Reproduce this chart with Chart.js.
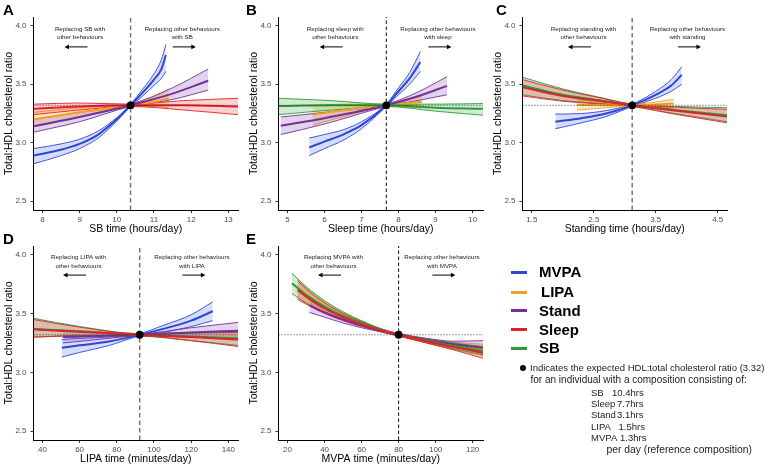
<!DOCTYPE html>
<html><head><meta charset="utf-8">
<script src="https://cdn.jsdelivr.net/npm/chart.js@4.4.1/dist/chart.umd.min.js"></script>
<style>
body{margin:0;width:765px;height:466px;background:#fff;position:relative;overflow:hidden;font-family:"Liberation Sans",Arial,sans-serif}
canvas{position:absolute}
.let{position:absolute;font-weight:bold;font-size:15px;line-height:15px;color:#000}
.lg{position:absolute;height:3px;width:16px}
.lgt{position:absolute;font-weight:bold;font-size:15px;line-height:16px;color:#000}
.nt{position:absolute;font-size:10px;line-height:12px;color:#222;white-space:nowrap}
</style></head><body>
<canvas id="cA" width="245" height="236" style="left:0px;top:0px"></canvas>
<canvas id="cB" width="245" height="236" style="left:245px;top:0px"></canvas>
<canvas id="cC" width="245" height="236" style="left:489px;top:0px"></canvas>
<canvas id="cD" width="245" height="236" style="left:0px;top:230px"></canvas>
<canvas id="cE" width="245" height="236" style="left:245px;top:230px"></canvas>
<div id="extra"></div>
<script>
// ---------- data ----------
const REF_RATIO = 3.32;
const Y_MIN = 2.425, Y_MAX = 4.075;
const Y_TICKS = [2.5, 3.0, 3.5, 4.0];
const SERIES_NAMES = ['MVPA','LIPA','Stand','Sleep','SB'];

// Panel A : SB time (hours/day)
const A_X_TICKS = [8, 9, 10, 11, 12, 13];
const A_X_RANGE = [7.76, 13.26];
const A_REF = 10.37;
// rows: [x, mean, lower, upper]
const A_MVPA = [[7.76,2.89,2.82,2.95],[8.5,2.94,2.89,2.99],[9.0,2.99,2.95,3.03],[9.5,3.07,3.04,3.10],[10.0,3.20,3.185,3.215],[10.37,3.32,3.31,3.33],[10.7,3.43,3.40,3.46],[11.0,3.54,3.49,3.59],[11.2,3.63,3.55,3.71],[11.32,3.75,3.61,3.84]];
const A_LIPA = [[7.76,3.20,3.14,3.26],[9.0,3.26,3.22,3.30],[10.37,3.32,3.31,3.33],[11.0,3.35,3.31,3.39],[11.4,3.38,3.30,3.46]];
const A_STAND = [[7.76,3.14,3.09,3.20],[9.0,3.22,3.18,3.26],[10.37,3.32,3.31,3.33],[11.5,3.42,3.37,3.47],[12.46,3.53,3.45,3.63]];
const A_SLEEP = [[7.76,3.29,3.24,3.33],[9.0,3.31,3.28,3.34],[10.37,3.32,3.31,3.33],[11.8,3.32,3.28,3.36],[13.26,3.31,3.24,3.38]];

// Panel B : Sleep time (hours/day)
const B_X_TICKS = [5, 6, 7, 8, 9, 10];
const B_X_RANGE = [4.76, 10.28];
const B_REF = 7.67;
const B_MVPA = [[5.59,2.96,2.89,3.04],[6.0,3.01,2.95,3.07],[6.5,3.07,3.02,3.11],[7.0,3.15,3.12,3.18],[7.67,3.32,3.31,3.33],[8.0,3.44,3.41,3.47],[8.3,3.55,3.50,3.60],[8.59,3.69,3.61,3.78]];
const B_LIPA = [[5.68,3.24,3.15,3.32],[6.7,3.285,3.24,3.33],[7.67,3.32,3.31,3.33],[8.63,3.35,3.30,3.40]];
const B_STAND = [[4.82,3.145,3.07,3.22],[6.0,3.21,3.16,3.26],[7.67,3.32,3.31,3.33],[8.5,3.395,3.36,3.43],[9.31,3.486,3.41,3.565]];
const B_SB = [[4.76,3.315,3.24,3.38],[6.2,3.32,3.28,3.36],[7.67,3.32,3.31,3.33],[9.0,3.30,3.27,3.33],[10.28,3.29,3.235,3.335]];

// Panel C : Standing time (hours/day)
const C_X_TICKS = [1.5, 2.5, 3.5, 4.5];
const C_X_RANGE = [1.35, 4.65];
const C_REF = 3.12;
const C_MVPA = [[1.88,3.18,3.12,3.245],[2.3,3.21,3.17,3.25],[2.7,3.25,3.225,3.275],[3.12,3.32,3.31,3.33],[3.5,3.41,3.38,3.44],[3.75,3.49,3.44,3.54],[3.92,3.58,3.50,3.65]];
const C_LIPA = [[2.23,3.325,3.28,3.37],[3.12,3.32,3.31,3.33],[3.79,3.335,3.30,3.37]];
const C_SLEEP = [[1.35,3.475,3.40,3.54],[2.0,3.40,3.355,3.45],[2.5,3.365,3.335,3.395],[3.12,3.32,3.31,3.33],[3.8,3.275,3.245,3.305],[4.65,3.225,3.17,3.285]];
const C_SB = [[1.35,3.49,3.41,3.56],[2.0,3.41,3.36,3.46],[2.5,3.37,3.34,3.40],[3.12,3.32,3.31,3.33],[3.8,3.28,3.25,3.31],[4.65,3.235,3.18,3.30]];

// Panel D : LIPA time (minutes/day)
const D_X_TICKS = [40, 60, 80, 100, 120, 140];
const D_X_RANGE = [35.2, 145.2];
const D_REF = 92.3;
const D_MVPA = [[50.4,3.21,3.13,3.28],[60,3.23,3.17,3.29],[75,3.26,3.225,3.30],[92.3,3.32,3.31,3.33],[105,3.37,3.34,3.40],[120,3.44,3.39,3.49],[131.6,3.52,3.44,3.60]];
const D_STAND = [[51,3.30,3.25,3.355],[70,3.31,3.28,3.34],[92.3,3.32,3.31,3.33],[120,3.34,3.30,3.38],[145.2,3.355,3.285,3.425]];
const D_SLEEP = [[35.2,3.366,3.30,3.45],[60,3.345,3.31,3.385],[92.3,3.32,3.31,3.33],[120,3.30,3.27,3.335],[145.2,3.28,3.22,3.34]];
const D_SB = [[35.2,3.37,3.30,3.46],[60,3.35,3.315,3.39],[92.3,3.32,3.31,3.33],[120,3.305,3.27,3.34],[145.2,3.29,3.23,3.35]];

// Panel E : MVPA time (minutes/day)
const E_X_TICKS = [20, 40, 60, 80, 100, 120];
const E_X_RANGE = [15.1, 125.6];
const E_REF = 80;
const E_LIPA = [[25.4,3.71,3.64,3.80],[30,3.655,3.59,3.72],[40,3.555,3.51,3.60],[50,3.475,3.445,3.505],[60,3.415,3.395,3.435],[70,3.362,3.352,3.372],[80,3.32,3.31,3.33],[95,3.268,3.25,3.285],[110,3.225,3.195,3.255],[125.6,3.19,3.14,3.24]];
const E_STAND = [[31.9,3.57,3.51,3.62],[40,3.51,3.47,3.55],[50,3.45,3.42,3.48],[60,3.40,3.38,3.42],[70,3.355,3.345,3.365],[80,3.32,3.31,3.33],[95,3.275,3.26,3.29],[110,3.24,3.215,3.265],[125.6,3.21,3.16,3.27]];
const E_SLEEP = [[25.4,3.70,3.62,3.78],[30,3.645,3.58,3.71],[40,3.545,3.50,3.59],[50,3.47,3.44,3.50],[60,3.41,3.39,3.43],[70,3.36,3.35,3.37],[80,3.32,3.31,3.33],[95,3.265,3.25,3.28],[110,3.215,3.19,3.24],[125.6,3.17,3.12,3.21]];
const E_SB = [[22.4,3.757,3.67,3.843],[30,3.66,3.59,3.73],[40,3.56,3.51,3.61],[50,3.48,3.45,3.515],[60,3.42,3.40,3.44],[70,3.365,3.355,3.375],[80,3.32,3.31,3.33],[95,3.27,3.255,3.285],[110,3.225,3.20,3.25],[125.6,3.185,3.15,3.22]];

// reference composition text
const REF_LABELS = ['SB','Sleep','Stand','LIPA','MVPA'];
const REF_VALUES = ['10.4hrs','7.7hrs','3.1hrs','1.5hrs','1.3hrs'];

// ---------- styles ----------
const LINE_COLORS = {MVPA:'#2f45d6', LIPA:'#f3a020', Stand:'#74309a', Sleep:'#e2212a', SB:'#2b9b34'};
const FILL_COLORS = {MVPA:'rgba(70,100,235,0.22)', LIPA:'rgba(245,165,35,0.25)', Stand:'rgba(128,60,170,0.22)', Sleep:'rgba(235,40,45,0.22)', SB:'rgba(45,160,55,0.22)'};
const DRAW_RANK = {MVPA:0, LIPA:1, Stand:2, SB:3, Sleep:4};
const FONT = '"Liberation Sans", Arial, sans-serif';

const annotPlugin = {
  id: 'annot',
  afterDatasetsDraw(chart, args, o) {
    if (!o || !o.left) return;
    const {ctx, chartArea: ca} = chart;
    ctx.save();
    ctx.fillStyle = '#1a1a1a';
    ctx.strokeStyle = '#000';
    ctx.font = '6.2px ' + FONT;
    ctx.textAlign = 'center';
    ctx.textBaseline = 'middle';
    [[o.left, ca.left + o.tl, -1], [o.right, ca.left + o.tr, 1]].forEach(([lines, cx, dir]) => {
      lines.forEach((t, k) => ctx.fillText(t, cx, ca.top + o.dy + k * 8.7));
      const ax = cx + (dir < 0 ? -4 : 2);
      const y = ca.top + o.dy + 17.9;
      const half = 11.5;
      const tip = ax + dir * half;
      ctx.lineWidth = 1;
      ctx.beginPath();
      ctx.moveTo(ax - dir * half, y);
      ctx.lineTo(tip - dir * 3, y);
      ctx.stroke();
      ctx.beginPath();
      ctx.moveTo(tip, y);
      ctx.lineTo(tip - dir * 4.5, y - 2.4);
      ctx.lineTo(tip - dir * 4.5, y + 2.4);
      ctx.closePath();
      ctx.fillStyle = '#000';
      ctx.fill();
      ctx.fillStyle = '#1a1a1a';
    });
    ctx.restore();
  }
};

function toXY(rows, col) { return rows.map(r => ({x: r[0], y: r[col]})); }

function makePanel(p) {
  const datasets = [];
  datasets.push({data: [{x: p.ref, y: REF_RATIO}], showLine: false, pointRadius: 3.9, pointBackgroundColor: '#000', pointBorderWidth: 0, order: 1});
  datasets.push({data: [{x: p.ref, y: Y_MIN}, {x: p.ref, y: Y_MAX}], borderColor: p.dark ? '#111' : '#6e6e6e', borderWidth: p.dark ? 1 : 1.4, borderDash: p.dark ? [3.5, 2.5] : [4.5, 3], pointRadius: 0, order: 3});
  datasets.push({data: [{x: p.xr[0], y: REF_RATIO}, {x: p.xr[1], y: REF_RATIO}], borderColor: '#222', borderWidth: 0.9, borderDash: [1, 2], pointRadius: 0, order: 2});
  p.series.forEach(([name, rows]) => {
    const i = DRAW_RANK[name];
    const lc = LINE_COLORS[name], fc = FILL_COLORS[name];
    const common = {pointRadius: 0, cubicInterpolationMode: 'monotone', borderColor: lc};
    const lowIdx = datasets.length;
    datasets.push(Object.assign({data: toXY(rows, 2), borderWidth: 0.9, fill: false, order: 1001 - i * 10}, common));
    datasets.push(Object.assign({data: toXY(rows, 3), borderWidth: 0.9, fill: {target: lowIdx, above: fc, below: fc}, order: 1000 - i * 10}, common));
    datasets.push(Object.assign({data: toXY(rows, 1), borderWidth: 2, fill: false, order: 500 - i * 10}, common));
  });
  new Chart(document.getElementById(p.id), {
    type: 'line',
    data: {datasets},
    plugins: [annotPlugin],
    options: {
      responsive: false, animation: false, devicePixelRatio: 1,
      layout: {padding: {top: p.padTop, right: 7, left: 0, bottom: 0}},
      plugins: {legend: {display: false}, tooltip: {enabled: false},
        annot: {left: p.nl, right: p.nr, tl: p.tl, tr: p.tr, dy: p.padTop === 17 ? 12 : 11.2}},
      scales: {
        x: {type: 'linear', min: p.xr[0], max: p.xr[1],
          afterBuildTicks: s => { s.ticks = p.xt.map(v => ({value: v})); },
          afterFit: s => { s.height = 26; },
          ticks: {autoSkip: false, maxRotation: 0, padding: 2, color: '#4d4d4d', font: {family: FONT, size: 8},
            callback: v => p.dec ? v.toFixed(1) : String(v)},
          grid: {drawOnChartArea: false, drawTicks: true, tickLength: 3, color: '#333'},
          border: {display: true, color: '#000', width: 1},
          title: {display: true, text: p.title, color: '#000', font: {family: FONT, size: 10.5}, padding: {top: 0, bottom: 1}}},
        y: {type: 'linear', min: Y_MIN, max: Y_MAX,
          afterBuildTicks: s => { s.ticks = Y_TICKS.map(v => ({value: v})); },
          afterFit: s => { s.width = 33.5; },
          ticks: {padding: 4, color: '#4d4d4d', font: {family: FONT, size: 8}, callback: v => v.toFixed(1)},
          grid: {drawOnChartArea: false, drawTicks: true, tickLength: 3, color: '#333'},
          border: {display: true, color: '#000', width: 1},
          title: {display: true, text: 'Total:HDL cholesterol ratio', color: '#000', font: {family: FONT, size: 10.5}, padding: {top: 2.5, bottom: 0}}}
      }
    }
  });
}

const PANELS = [
  {id: 'cA', padTop: 17, title: 'SB time (hours/day)', xr: A_X_RANGE, xt: A_X_TICKS, ref: A_REF, dark: false,
   series: [['MVPA', A_MVPA], ['LIPA', A_LIPA], ['Stand', A_STAND], ['Sleep', A_SLEEP]],
   nl: ['Replacing SB with', 'other behaviours'], nr: ['Replacing other behaviours', 'with SB'], tl: 46.5, tr: 148.8},
  {id: 'cB', padTop: 17, title: 'Sleep time (hours/day)', xr: B_X_RANGE, xt: B_X_TICKS, ref: B_REF, dark: true,
   series: [['MVPA', B_MVPA], ['LIPA', B_LIPA], ['Stand', B_STAND], ['SB', B_SB]],
   nl: ['Replacing sleep with', 'other behaviours'], nr: ['Replacing other behaviours', 'with sleep'], tl: 56.7, tr: 159.4},
  {id: 'cC', padTop: 17, title: 'Standing time (hours/day)', xr: C_X_RANGE, xt: C_X_TICKS, ref: C_REF, dark: false, dec: true,
   series: [['MVPA', C_MVPA], ['LIPA', C_LIPA], ['SB', C_SB], ['Sleep', C_SLEEP]],
   nl: ['Replacing standing with', 'other behaviours'], nr: ['Replacing other behaviours', 'with standing'], tl: 61, tr: 165},
  {id: 'cD', padTop: 16, title: 'LIPA time (minutes/day)', xr: D_X_RANGE, xt: D_X_TICKS, ref: D_REF, dark: false,
   series: [['MVPA', D_MVPA], ['Stand', D_STAND], ['SB', D_SB], ['Sleep', D_SLEEP]],
   nl: ['Replacing LIPA with', 'other behaviours'], nr: ['Replacing other behaviours', 'with LIPA'], tl: 45, tr: 158.4},
  {id: 'cE', padTop: 16, title: 'MVPA time (minutes/day)', xr: E_X_RANGE, xt: E_X_TICKS, ref: E_REF, dark: true,
   series: [['LIPA', E_LIPA], ['Stand', E_STAND], ['SB', E_SB], ['Sleep', E_SLEEP]],
   nl: ['Replacing MVPA with', 'other behaviours'], nr: ['Replacing other behaviours', 'with MVPA'], tl: 55, tr: 163.4}
];
PANELS.forEach(makePanel);

// ---------- letters, legend, notes ----------
const extra = document.getElementById('extra');
function addDiv(cls, style, text) {
  const d = document.createElement('div');
  d.className = cls; d.style.cssText = style;
  if (text !== undefined) d.textContent = text;
  extra.appendChild(d);
  return d;
}
[['A', 3, 2.3], ['B', 246, 2.3], ['C', 496, 2.3], ['D', 3, 231], ['E', 246, 231]].forEach(([t, x, y]) => addDiv('let', `left:${x}px;top:${y}px`, t));

const LEG_Y = [272, 292, 310.5, 329.5, 348];
SERIES_NAMES.forEach((n, k) => {
  addDiv('lg', `left:511px;top:${LEG_Y[k] - 1.5}px;background:${LINE_COLORS[n]}`);
  addDiv('lgt', `left:${n === 'LIPA' ? 541 : 539}px;top:${LEG_Y[k] - 8}px`, n);
});
addDiv('', 'position:absolute;left:520px;top:364.7px;width:6px;height:6px;border-radius:3px;background:#000');
addDiv('nt', 'left:530px;top:361.7px;font-size:9.5px', 'Indicates the expected HDL:total cholesterol ratio (3.32)');
addDiv('nt', 'left:530.5px;top:374px', 'for an individual with a composition consisting of:');
const REF_Y = [393.3, 404.2, 415.2, 426.5, 438.3];
const REF_VAL_X = [612, 617, 617, 618.5, 620];
REF_LABELS.forEach((l, k) => {
  addDiv('nt', `left:591px;top:${REF_Y[k] - 6}px;font-size:9.5px`, l);
  addDiv('nt', `left:${REF_VAL_X[k]}px;top:${REF_Y[k] - 6}px;font-size:9.5px`, REF_VALUES[k]);
});
addDiv('nt', 'left:606.5px;top:444px;font-size:10.3px', 'per day (reference composition)');
</script>
</body></html>
